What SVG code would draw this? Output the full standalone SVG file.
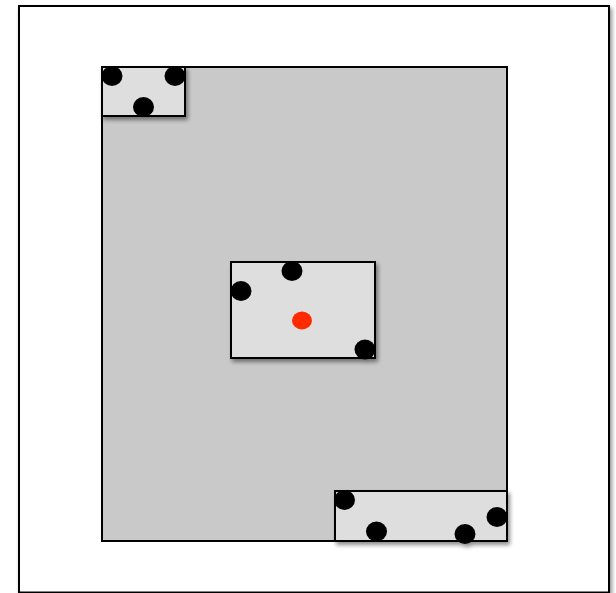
<svg xmlns="http://www.w3.org/2000/svg" width="616" height="593" viewBox="0 0 616 593">
<defs>
<filter id="sh" x="-20%" y="-20%" width="150%" height="150%">
<feGaussianBlur in="SourceAlpha" stdDeviation="2"/>
<feOffset dx="1.5" dy="3" result="b"/>
<feComponentTransfer><feFuncA type="linear" slope="0.45"/></feComponentTransfer>
<feMerge><feMergeNode/><feMergeNode in="SourceGraphic"/></feMerge>
</filter>
</defs>
<style>
.frame{fill:#ffffff;stroke:#000;stroke-width:2}
.big{fill:#c9c9c9;stroke:#000;stroke-width:2}
.box{fill:#dedede;stroke:#000;stroke-width:2}
.dot{fill:#000}
.red{fill:#ff2a00}
</style>
<rect width="616" height="593" fill="#fff"/>
<g id="frame"><rect class="frame" x="19" y="6" width="590" height="586.5" filter="url(#sh)"/></g>
<g id="region"><rect class="big" x="102" y="67" width="405" height="474"/></g>
<g id="box-topleft" filter="url(#sh)">
<rect class="box" x="102" y="67" width="83" height="49"/>
<ellipse class="dot" cx="112" cy="76" rx="10.5" ry="10"/>
<ellipse class="dot" cx="175" cy="76" rx="10.5" ry="10"/>
<ellipse class="dot" cx="143.5" cy="107" rx="10.5" ry="10"/>
</g>
<g id="box-center" filter="url(#sh)">
<rect class="box" x="231" y="262" width="144" height="96"/>
<ellipse class="dot" cx="292" cy="271" rx="10.5" ry="10"/>
<ellipse class="dot" cx="241" cy="291" rx="10.5" ry="10"/>
<ellipse class="red" cx="302" cy="320.5" rx="10" ry="9"/>
<ellipse class="dot" cx="365" cy="349.5" rx="10.5" ry="10"/>
</g>
<g id="box-bottomright" filter="url(#sh)">
<rect class="box" x="335" y="491" width="172" height="50"/>
<ellipse class="dot" cx="344.5" cy="500" rx="10.5" ry="10"/>
<ellipse class="dot" cx="376.5" cy="531.5" rx="10.5" ry="10"/>
<ellipse class="dot" cx="465" cy="534" rx="10.5" ry="10"/>
<ellipse class="dot" cx="497" cy="517" rx="10.5" ry="10"/>
</g>
<g id="connectors"></g>
</svg>
